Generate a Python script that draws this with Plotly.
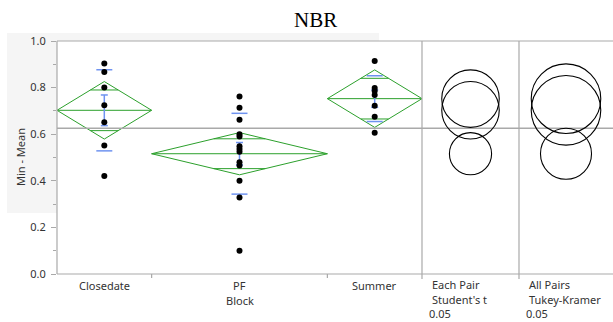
import numpy as np
import plotly.graph_objects as go

# ---- data -----------------------------------------------------------------
groups = ["Closedate", "PF", "Summer"]
closedate = [0.903, 0.867, 0.800, 0.724, 0.651, 0.552, 0.421]
pf = [0.762, 0.714, 0.662, 0.600, 0.590, 0.548, 0.536, 0.525, 0.480, 0.466,
      0.400, 0.328, 0.100]
summer = [0.914, 0.798, 0.785, 0.768, 0.722, 0.675, 0.606]
y_ticks = [0.0, 0.2, 0.4, 0.6, 0.8, 1.0]
alpha_text = "0.05"
T_CRIT = 2.0639   # Student's t 0.975 quantile, df = 24
Q_CRIT = 3.5317   # studentized range q(0.95; k=3, df=24)

# ---- page geometry (pixels) -----------------------------------------------
W, H = 613, 322
L, R, T, B = 57, 613, 41, 274          # plot area
SEP1, SEP2 = 422, 519                   # panel separators
FONT = "Noto Sans"
GRID = "#a9a9a9"
GREEN = "#2ca02c"
BLUE = "#6f93f0"


def fx(px):
    return (px - L) / (R - L)


def fy(py):
    return (B - py) / (B - T)


samples = [np.array(closedate), np.array(pf), np.array(summer)]
ns = np.array([len(s) for s in samples])
means = np.array([s.mean() for s in samples])
sds = np.array([s.std(ddof=1) for s in samples])
ses = sds / np.sqrt(ns)
grand_mean = np.concatenate(samples).mean()
df_err = ns.sum() - len(ns)
s_pooled = np.sqrt(sum(((s - s.mean()) ** 2).sum() for s in samples) / df_err)
se_pooled = s_pooled / np.sqrt(ns)
ci_half = T_CRIT * se_pooled
tukey_r = Q_CRIT / np.sqrt(2) * se_pooled

# group extents along the x axis are proportional to sample size
edges = np.concatenate([[0], np.cumsum(ns)])
total = edges[-1]
units_per_px = total / (SEP1 - L)
px_per_y = (B - T)

fig = go.Figure()


def seg(xs, ys, color, width=1.0):
    fig.add_trace(go.Scatter(x=xs, y=ys, mode="lines", xaxis="x", yaxis="y",
                             line=dict(color=color, width=width),
                             hoverinfo="skip", showlegend=False))


for i, s in enumerate(samples):
    x0, x1 = edges[i], edges[i + 1]
    xc = (x0 + x1) / 2
    m, ci = means[i], ci_half[i]
    hw = (x1 - x0) / 2
    # means diamond
    seg([x0, xc, x1, xc, x0], [m, m + ci, m, m - ci, m], GREEN)
    seg([x0, x1], [m, m], GREEN)
    # overlap marks
    h = ci / np.sqrt(2)
    ow = hw * (1 - 1 / np.sqrt(2))
    for yy in (m + h, m - h):
        seg([xc - ow, xc + ow], [yy, yy], GREEN)
    # std dev lines
    sw = 8 * units_per_px
    for yy in (m + sds[i], m - sds[i]):
        seg([xc - sw, xc + sw], [yy, yy], BLUE, 1.5)
    # mean error bar
    cw = 3.5 * units_per_px
    seg([xc, xc], [m - ses[i], m + ses[i]], BLUE, 1.5)
    for yy in (m + ses[i], m - ses[i]):
        seg([xc - cw, xc + cw], [yy, yy], BLUE, 1.5)
    # observations
    fig.add_trace(go.Scatter(x=[xc] * len(s), y=s, mode="markers",
                             xaxis="x", yaxis="y",
                             marker=dict(color="black", size=6),
                             hoverinfo="skip", showlegend=False))

shapes = []
# light panel behind the axis title region, then white plot area over it
shapes.append(dict(type="rect", xref="paper", yref="paper",
                   x0=fx(7), x1=fx(379), y0=fy(213), y1=fy(33),
                   fillcolor="#f5f5f5", line=dict(width=0), layer="below"))
shapes.append(dict(type="rect", xref="paper", yref="paper",
                   x0=0, x1=1, y0=0, y1=1,
                   fillcolor="white", line=dict(width=0), layer="below"))
# frame
line_style = dict(color=GRID, width=1.2)
shapes += [
    dict(type="line", xref="paper", yref="paper", x0=0, x1=1, y0=1, y1=1, line=line_style),
    dict(type="line", xref="paper", yref="paper", x0=0, x1=1, y0=0, y1=0, line=line_style),
    dict(type="line", xref="paper", yref="paper", x0=0, x1=0, y0=0, y1=1, line=line_style),
    dict(type="line", xref="paper", yref="paper", x0=fx(SEP1), x1=fx(SEP1),
         y0=fy(279), y1=1, line=line_style),
    dict(type="line", xref="paper", yref="paper", x0=fx(SEP2), x1=fx(SEP2),
         y0=fy(279), y1=1, line=line_style),
]
# group boundary ticks
for e in edges[1:-1]:
    shapes.append(dict(type="line", xref="x", yref="paper", x0=e, x1=e,
                       y0=fy(278), y1=0, line=line_style))
# grand mean
shapes.append(dict(type="line", xref="paper", yref="y", x0=0, x1=1,
                   y0=grand_mean, y1=grand_mean, line=dict(color=GRID, width=1.5)))
# comparison circles
for axis, radii in (("x2", ci_half), ("x3", tukey_r)):
    for m, r in zip(means, radii):
        shapes.append(dict(type="circle", xref=axis, yref="y",
                           x0=-r, x1=r, y0=m - r, y1=m + r,
                           line=dict(color="black", width=1.1)))

ann = []
txt = dict(family=FONT, size=11, color="#333333")
ann.append(dict(text="NBR", xref="paper", yref="paper", x=fx(315), y=fy(20),
                showarrow=False, xanchor="center", yanchor="middle",
                font=dict(family="Liberation Serif", size=21, color="black")))
ann.append(dict(text="Min - Mean", xref="paper", yref="paper", x=fx(20), y=fy(157),
                textangle=-90, showarrow=False, xanchor="center", yanchor="middle",
                font=txt))
for i, g in enumerate(groups):
    ann.append(dict(text=g, xref="x", yref="paper", x=(edges[i] + edges[i + 1]) / 2,
                    y=fy(285), showarrow=False, xanchor="center", yanchor="middle",
                    font=txt))
ann.append(dict(text="Block", xref="paper", yref="paper", x=fx((L + SEP1) / 2), y=fy(300),
                showarrow=False, xanchor="center", yanchor="middle", font=txt))
for x_lab, x_alpha, l1, l2 in ((430, 427, "Each Pair", "Student's t"),
                               (527, 524, "All Pairs", "Tukey-Kramer")):
    ann.append(dict(text=l1, xref="paper", yref="paper", x=fx(x_lab), y=fy(284),
                    showarrow=False, xanchor="left", yanchor="middle", font=txt))
    ann.append(dict(text=l2, xref="paper", yref="paper", x=fx(x_lab), y=fy(299),
                    showarrow=False, xanchor="left", yanchor="middle", font=txt))
    ann.append(dict(text=alpha_text, xref="paper", yref="paper", x=fx(x_alpha), y=fy(313),
                    showarrow=False, xanchor="left", yanchor="middle", font=txt))

half2 = (SEP2 - SEP1) / 2 / px_per_y
half3 = (R - SEP2) / 2 / px_per_y
hidden = dict(showline=False, showgrid=False, zeroline=False,
              showticklabels=False, ticks="", fixedrange=True)

fig.update_layout(
    width=W, height=H,
    margin=dict(l=L, r=W - R, t=T, b=H - B, pad=0),
    paper_bgcolor="white", plot_bgcolor="rgba(0,0,0,0)",
    xaxis=dict(domain=[0, fx(SEP1)], range=[0, total], anchor="y", **hidden),
    xaxis2=dict(domain=[fx(SEP1), fx(SEP2)], range=[-half2, half2], anchor="y", **hidden),
    xaxis3=dict(domain=[fx(SEP2), 1], range=[-half3, half3], anchor="y", **hidden),
    yaxis=dict(range=[0, 1], tickvals=y_ticks, ticktext=[f"{v:.1f}" for v in y_ticks],
               ticks="outside", ticklen=5, tickcolor=GRID, tickwidth=1,
               minor=dict(ticks="outside", ticklen=3, dtick=0.1, tickcolor=GRID),
               showline=False, showgrid=False, zeroline=False,
               tickfont=txt, ticklabelstandoff=3, fixedrange=True),
    shapes=shapes, annotations=ann,
)

fig.write_html("out.html")
